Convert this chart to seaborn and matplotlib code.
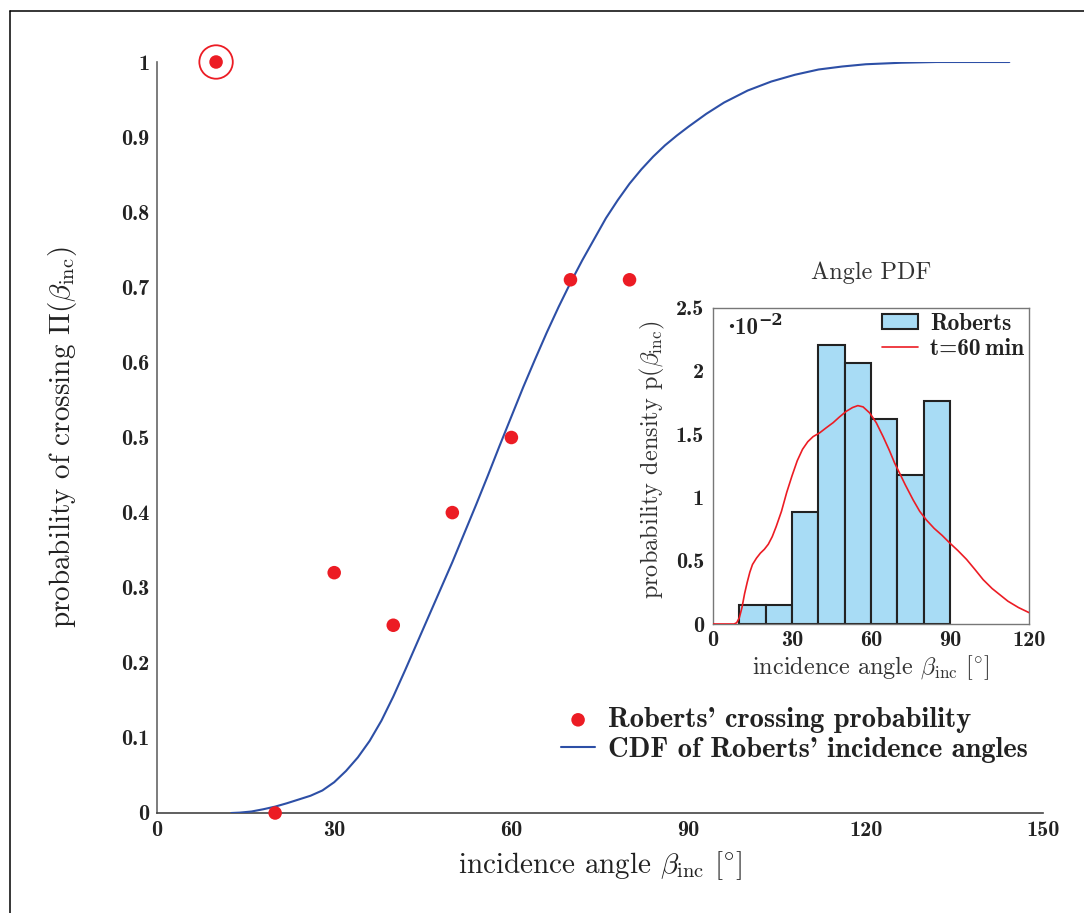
import numpy as np
import pandas as pd
import matplotlib
matplotlib.use("Agg")
import matplotlib.pyplot as plt
from matplotlib.lines import Line2D
from matplotlib.patches import Patch
from matplotlib.transforms import offset_copy
import seaborn as sns

# Crossing probability for each 10° class of incidence angle
cross_angle = [10, 20, 30, 40, 50, 60, 70, 80]
cross_prob = [1.00, 0.00, 0.32, 0.25, 0.40, 0.50, 0.71, 0.71]
ring_angle = [10]
ring_prob = [1.00]

# CDF of the incidence angles
cdf_angle = [12.6, 14, 16, 18, 20, 22, 24, 26, 28, 30, 32, 34, 36, 38, 40, 42,
             44, 46, 48, 50, 52, 54, 56, 58, 60, 62, 64, 66, 68, 70, 72, 74, 76,
             78, 80, 82, 84, 86, 88, 90, 93, 96, 100, 104, 108, 112, 116, 120,
             126, 132, 144.3]
cdf_value = [0.0, 0.0005, 0.002, 0.005, 0.0085, 0.013, 0.018, 0.023, 0.030,
             0.041, 0.056, 0.074, 0.096, 0.123, 0.155, 0.190, 0.226, 0.262,
             0.298, 0.334, 0.372, 0.410, 0.449, 0.489, 0.528, 0.567, 0.604,
             0.640, 0.674, 0.706, 0.736, 0.764, 0.792, 0.816, 0.838, 0.857,
             0.874, 0.889, 0.902, 0.914, 0.931, 0.946, 0.962, 0.974, 0.983,
             0.990, 0.994, 0.997, 0.999, 1.0, 1.0]

# Histogram of incidence angles (density, units of 1e-2)
hist_edges = [10, 20, 30, 40, 50, 60, 70, 80, 90]
hist_density = [0.147, 0.147, 0.882, 2.206, 2.059, 1.618, 1.176, 1.765]

# Smoothed angle density after 60 min (units of 1e-2)
pdf_angle = [0, 8, 9, 10, 11, 12, 13, 14, 15, 16.5, 18, 19.5, 21, 22.5, 24, 26,
             28, 30, 32, 34, 36, 38, 40.5, 43, 45.6, 48, 50.6, 53, 55, 57, 59.5,
             62, 64.6, 67, 69, 70.9, 73, 76, 78.5, 81.1, 84, 87, 89.9, 93, 96.3,
             99.5, 102.6, 106, 109, 112, 116, 120]
pdf_value = [0, 0, 0.01, 0.05, 0.13, 0.24, 0.33, 0.41, 0.47, 0.52, 0.56, 0.59,
             0.63, 0.69, 0.77, 0.89, 1.04, 1.17, 1.29, 1.38, 1.44, 1.48, 1.51,
             1.55, 1.59, 1.635, 1.68, 1.71, 1.725, 1.715, 1.667, 1.59, 1.48,
             1.37, 1.27, 1.19, 1.10, 0.98, 0.89, 0.82, 0.755, 0.70, 0.64, 0.58,
             0.51, 0.43, 0.35, 0.28, 0.23, 0.18, 0.13, 0.09]

RED = "#ec1c24"
BLUE = "#2d4fa6"
FILL = "#a8dcf5"
REG = ["cmr10", "DejaVu Serif"]
BOLD = ["cmb10", "DejaVu Serif"]
TICK_FS = 16

sns.set_style("white")
plt.rcParams["font.family"] = REG
plt.rcParams["mathtext.fontset"] = "cm"
plt.rcParams["axes.formatter.use_mathtext"] = True
plt.rcParams["axes.unicode_minus"] = False

fig = plt.figure(figsize=(10.84, 9.13), dpi=100)
W, H = 1084, 913


def fx(px):
    return px / W


def fy(py):
    return 1 - py / H


# ---------------- main axes ----------------
ax = fig.add_axes([fx(157), fy(813), fx(1043) - fx(157), fy(62) - fy(813)])

sns.lineplot(x=cdf_angle, y=cdf_value, ax=ax, color=BLUE, lw=1.5,
             label="CDF of Roberts' incidence angles", zorder=3)
sns.scatterplot(x=cross_angle, y=cross_prob, ax=ax, color=RED, s=95,
                edgecolor="none", label="Roberts' crossing probability",
                clip_on=False, zorder=6)
sns.scatterplot(x=ring_angle, y=ring_prob, ax=ax, s=580, facecolor="none",
                edgecolor=RED, linewidth=1.3, clip_on=False, zorder=6)

ax.set_xlim(0, 150)
ax.set_ylim(0, 1)
xt = [0, 30, 60, 90, 120, 150]
yt = [round(0.1 * i, 1) for i in range(11)]
ax.set_xticks(xt, [str(v) for v in xt], fontfamily=BOLD, fontsize=TICK_FS)
ax.set_yticks(yt, ["0" if v == 0 else ("1" if v == 1 else f"{v:.1f}") for v in yt],
              fontfamily=BOLD, fontsize=TICK_FS)
ax.tick_params(axis="x", direction="in", length=6.5, width=1, color="#999999",
               pad=6.0, labelcolor="#222222")
ax.tick_params(axis="y", direction="in", length=6.5, width=1, color="#999999",
               pad=5.5, labelcolor="#222222")
for side in ("top", "right"):
    ax.spines[side].set_visible(False)
ax.spines["left"].set_color("#666666")
ax.spines["bottom"].set_color("#444444")
for side in ("left", "bottom"):
    ax.spines[side].set_linewidth(1.2)

ax.set_xlabel(r"incidence angle $\beta_{\mathrm{inc}}$ [$^{\circ}$]", fontsize=21,
              color="#222222")
ax.set_ylabel(r"probability of crossing $\Pi(\beta_{\mathrm{inc}})$", fontsize=21,
              color="#222222")
ax.xaxis.set_label_coords(0.5, -0.0706)
ax.yaxis.set_label_coords(-0.107, 0.5)
ax.xaxis.label.set_va("center")
ax.yaxis.label.set_va("center")

handles, labels = ax.get_legend_handles_labels()
order = [labels.index("Roberts' crossing probability"),
         labels.index("CDF of Roberts' incidence angles")]
leg = ax.legend([handles[i] for i in order], [labels[i] for i in order],
                loc="center left", bbox_to_anchor=(fx(561), fy(735)),
                bbox_transform=fig.transFigure, frameon=False, borderpad=0,
                borderaxespad=0, handlelength=1.2, handletextpad=0.46,
                labelspacing=0.12, prop={"family": BOLD, "size": 20.5})
for t in leg.get_texts():
    t.set_color("#222222")

# ---------------- inset axes ----------------
ins = fig.add_axes([fx(713), fy(624), fx(1029) - fx(713), fy(307.5) - fy(624)])
centers = [(a + b) / 2 for a, b in zip(hist_edges[:-1], hist_edges[1:])]
sns.histplot(x=centers, weights=hist_density, bins=hist_edges, ax=ins,
             stat="count", color=FILL, alpha=1, edgecolor="#222222",
             linewidth=1.5, zorder=2)
sns.lineplot(x=pdf_angle, y=pdf_value, ax=ins, color=RED, lw=1.2, zorder=3)

ins.set_xlim(0, 120)
ins.set_ylim(0, 2.5)
ixt = [0, 30, 60, 90, 120]
iyt = [0, 0.5, 1, 1.5, 2, 2.5]
ins.set_xticks(ixt, [str(v) for v in ixt], fontfamily=BOLD, fontsize=TICK_FS)
ins.set_yticks(iyt, ["0", "0.5", "1", "1.5", "2", "2.5"], fontfamily=BOLD,
               fontsize=TICK_FS)
ins.tick_params(axis="x", direction="in", length=6, width=1, color="#aaaaaa",
                pad=5.0, labelcolor="#222222")
ins.tick_params(axis="y", direction="in", length=6, width=1, color="#aaaaaa",
                pad=6.5, labelcolor="#222222")
for s in ins.spines.values():
    s.set_color("#777777")
    s.set_linewidth(1.0)
    s.set_visible(True)

ins.set_xlabel(r"incidence angle $\beta_{\mathrm{inc}}$ [$^{\circ}$]", fontsize=17.5,
               color="#333333")
ins.set_ylabel(r"probability density p$(\beta_{\mathrm{inc}})$", fontsize=17.5,
               color="#333333")
ins.xaxis.set_label_coords(0.5, -0.139)
ins.yaxis.set_label_coords(-0.193, 0.52)
ins.xaxis.label.set_va("center")
ins.yaxis.label.set_va("center")
ins.text(0.5, 1.109, "Angle PDF", transform=ins.transAxes, ha="center",
         va="center", fontsize=17.5, color="#333333")

# scale factor of the density axis, bold base with raised exponent
base = ins.text(0.045, 0.915, "\u00b710", transform=ins.transAxes, ha="left",
                va="baseline", fontsize=16.5, fontfamily=BOLD,
                fontweight="bold", color="#222222")
renderer = fig.canvas.get_renderer()
bw = base.get_window_extent(renderer).width
ins.text(0.045, 0.915, "\u22122",
         transform=offset_copy(ins.transAxes, fig=fig, x=bw * 72 / fig.dpi,
                               y=7, units="points"),
         ha="left", va="baseline", fontsize=11.5, fontfamily=["DejaVu Serif"],
         fontweight="bold", color="#222222")

ileg = ins.legend([Patch(facecolor=FILL, edgecolor="#222222", linewidth=1.5),
                   Line2D([], [], color=RED, lw=1.2)],
                  ["Roberts", "t=60\u2009min"],
                  loc="center left", bbox_to_anchor=(fx(882), fy(336.5)),
                  bbox_transform=fig.transFigure, frameon=False, borderpad=0,
                  borderaxespad=0, handlelength=1.55, handleheight=0.6,
                  handletextpad=0.5, labelspacing=0.12,
                  prop={"family": BOLD, "size": 16.8})
for t in ileg.get_texts():
    t.set_color("#222222")

# thin frame along the top and left edges of the page
fig.add_artist(Line2D([fx(10), 1.0], [fy(11.5), fy(11.5)], color="black", lw=1.1))
fig.add_artist(Line2D([fx(10.3), fx(10.3)], [fy(11.5), 0.0], color="black", lw=1.1))

fig.savefig("out.png", dpi=100)
